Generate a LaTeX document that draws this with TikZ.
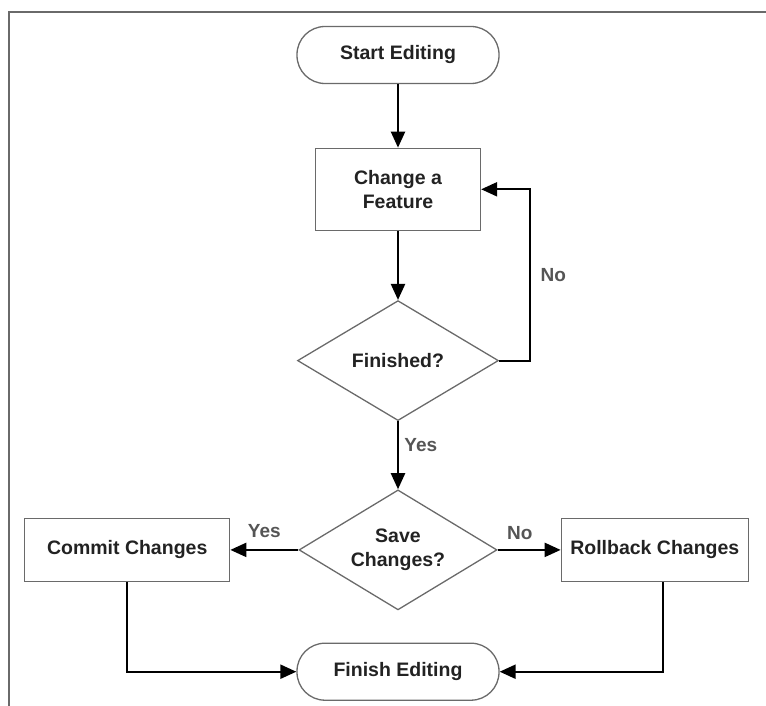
\documentclass[tikz,border=0pt]{standalone}
\usepackage{fontspec}
\setmainfont{Liberation Sans}
\usetikzlibrary{arrows.meta,positioning,shapes.geometric}

\definecolor{edgegray}{HTML}{6A6A6A}
\definecolor{txtdark}{HTML}{222222}
\definecolor{lblgray}{HTML}{555555}

\begin{document}
\begin{tikzpicture}[
  x=1pt, y=1pt,
  base/.style={draw=edgegray, line width=1.3pt, align=center, text=txtdark, inner sep=0pt, font=\bfseries\fontsize{19.5}{24}\selectfont},
  term/.style={base, rounded corners=28pt, minimum width=202pt, minimum height=57pt},
  box/.style={base, minimum height=82pt},
  decide/.style={base, diamond, aspect=1.67},
  lbl/.style={text=lblgray, font=\bfseries\fontsize{19}{24}\selectfont},
  arrow/.style={-{Triangle[length=16pt, width=14pt]}, line width=2.2pt}
]
\useasboundingbox (0,0) rectangle (766,-706);
\draw[edgegray, line width=1.5pt] (9,-706) -- (9,-12) -- (766,-12);

\node[term] (start) at (398,-55) {Start Editing};
\node[box, minimum width=165pt, below=63.5pt of start] (change) {Change a\\Feature};
\node[decide, minimum width=201pt, minimum height=120pt, below=69pt of change] (fin) {Finished?};
\node[decide, minimum width=198pt, minimum height=120pt, below=68pt of fin] (save) {Save\\Changes?};
\node[box, minimum width=205pt, minimum height=63pt, left=68pt of save] (commit) {Commit Changes};
\node[box, minimum width=187pt, minimum height=63pt, right=63pt of save] (rollback) {Rollback Changes};
\node[term, below=32pt of save] (finish) {Finish Editing};

\draw[arrow] (start) -- (change);
\draw[arrow] (change) -- (fin);
\draw[arrow] (fin.east) -- ++(31pt,0) |- node[lbl, pos=0.25, right=6pt] (nofin) {No} (change.east);
\draw[arrow] (fin) -- node[lbl, pos=0.35, right=2pt] (yesfin) {Yes} (save);
\draw[arrow] (save.west) -- node[lbl, above=8pt] (yessave) {Yes} (commit.east);
\draw[arrow] (save.east) -- node[lbl, pos=0.35, above=6pt] (nosave) {No} (rollback.west);
\draw[arrow] (commit.south) |- (finish.west);
\draw[arrow] ([xshift=8pt]rollback.south) |- (finish.east);
\end{tikzpicture}
\end{document}
